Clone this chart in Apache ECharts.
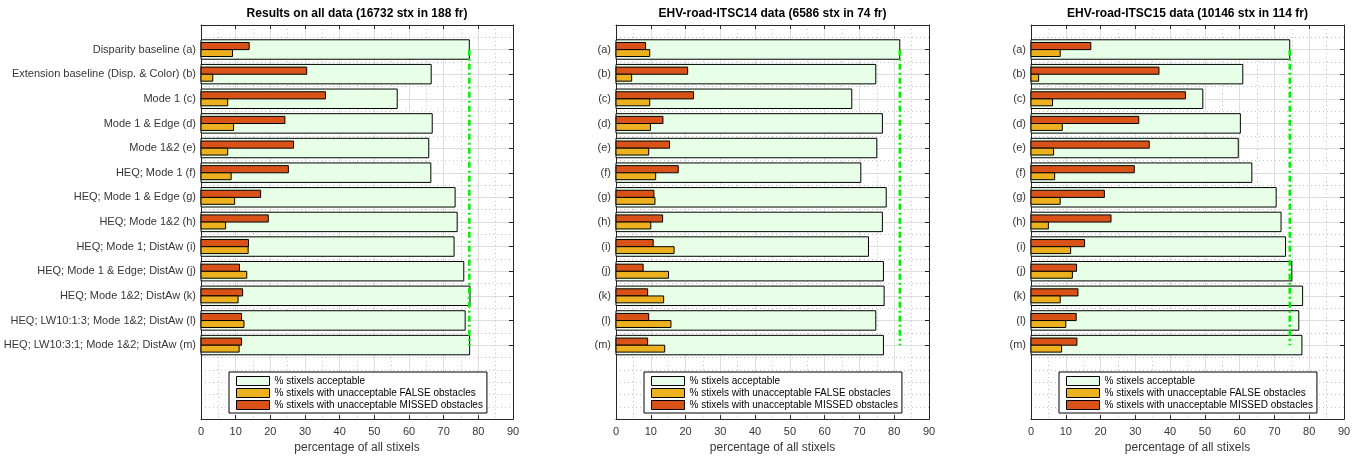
<!DOCTYPE html>
<html>
<head>
<meta charset="utf-8">
<script src="https://cdn.jsdelivr.net/npm/echarts@6/dist/echarts.min.js"></script>
<style>
html,body{margin:0;padding:0;background:#fff;}
#chart{width:1362px;height:459px;}
</style>
</head>
<body>
<div id="chart"></div>
<script>
// ---------------- DATA ----------------
const labelsLong = [
  'Disparity baseline (a)',
  'Extension baseline (Disp. & Color) (b)',
  'Mode 1 (c)',
  'Mode 1 & Edge (d)',
  'Mode 1&2 (e)',
  'HEQ; Mode 1 (f)',
  'HEQ; Mode 1 & Edge (g)',
  'HEQ; Mode 1&2 (h)',
  'HEQ; Mode 1; DistAw (i)',
  'HEQ; Mode 1 & Edge; DistAw (j)',
  'HEQ; Mode 1&2; DistAw (k)',
  'HEQ; LW10:1:3; Mode 1&2; DistAw (l)',
  'HEQ; LW10:3:1; Mode 1&2; DistAw (m)'
];
const labelsShort = ['(a)','(b)','(c)','(d)','(e)','(f)','(g)','(h)','(i)','(j)','(k)','(l)','(m)'];

const titles = [
  'Results on all data (16732 stx in 188 fr)',
  'EHV-road-ITSC14 data (6586 stx in 74 fr)',
  'EHV-road-ITSC15 data (10146 stx in 114 fr)'
];

const seriesNames = [
  '% stixels acceptable',
  '% stixels with unacceptable FALSE obstacles',
  '% stixels with unacceptable MISSED obstacles'
];

// Results on all data
const accAll   = [77.4, 66.4, 56.6, 66.7, 65.7, 66.3, 73.3, 73.9, 73.0, 75.8, 77.6, 76.2, 77.5];
const falseAll = [9.1, 3.4, 7.7, 9.4, 7.7, 8.7, 9.7, 7.1, 13.6, 13.2, 10.7, 12.4, 11.0];
const missAll  = [13.9, 30.5, 35.9, 24.2, 26.7, 25.2, 17.2, 19.4, 13.7, 11.1, 12.0, 11.7, 11.7];

// EHV-road-ITSC14
const acc14   = [81.6, 74.7, 67.8, 76.6, 75.0, 70.4, 77.7, 76.6, 72.6, 76.9, 77.1, 74.7, 76.9];
const false14 = [9.7, 4.5, 9.7, 9.9, 9.4, 11.4, 11.2, 10.0, 16.7, 15.1, 13.7, 15.8, 14.0];
const miss14  = [8.5, 20.6, 22.3, 13.5, 15.4, 17.9, 10.9, 13.4, 10.7, 7.8, 9.1, 9.4, 9.1];

// EHV-road-ITSC15
const acc15   = [74.4, 60.9, 49.4, 60.2, 59.6, 63.5, 70.5, 71.9, 73.2, 75.0, 78.1, 77.0, 77.9];
const false15 = [8.4, 2.2, 6.2, 9.0, 6.5, 6.8, 8.4, 5.0, 11.4, 11.9, 8.4, 10.0, 8.8];
const miss15  = [17.2, 36.8, 44.4, 31.0, 34.0, 29.7, 21.1, 23.0, 15.4, 13.1, 13.5, 13.0, 13.2];

const xTicksMax = 90;
const xTickStep = 10;

// ---------------- LAYOUT / STYLE ----------------
const FONT = '"Liberation Sans", Arial, Helvetica, sans-serif';
const AXIS_COLOR = '#262626';
const LABEL_COLOR = '#363636';
const MAJOR_GRID = '#dedede';
const MINOR_GRID = '#c4c4c4';
const COL_ACC = '#e6ffe6';
const COL_FALSE = '#edb120';
const COL_MISS = '#d95319';

const panels = [
  {labels: labelsLong,  acc: accAll, fal: falseAll, mis: missAll, left: 201, width: 312},
  {labels: labelsShort, acc: acc14,  fal: false14,  mis: miss14,  left: 616, width: 313},
  {labels: labelsShort, acc: acc15,  fal: false15,  mis: miss15,  left: 1031, width: 313}
];
const GRID_TOP = 25;
const GRID_H = 397;
const N = 13;          // number of configurations
const PAD_BOTTOM = 3;  // empty category slots below (legend area)

const grid = [], xAxis = [], yAxis = [], series = [], title = [], legend = [];

panels.forEach((P, p) => {
  const cats = [''].concat(P.labels, new Array(PAD_BOTTOM).fill(''));
  const total = cats.length - 1; // 16
  grid.push({left: P.left, top: GRID_TOP, width: P.width, height: GRID_H, containLabel: false});

  title.push({
    text: titles[p], left: P.left + P.width / 2, top: 8, padding: 0, textAlign: 'center',
    textStyle: {fontFamily: FONT, fontSize: 12, fontWeight: 'bold', color: '#000'}
  });

  // bottom x axis
  xAxis.push({
    type: 'value', gridIndex: p, min: 0, max: xTicksMax, interval: xTickStep, position: 'bottom',
    axisLine: {show: true, onZero: false, lineStyle: {color: AXIS_COLOR, width: 1}},
    axisTick: {show: true, inside: true, length: 4, lineStyle: {color: AXIS_COLOR}},
    axisLabel: {margin: 7, fontFamily: FONT, fontSize: 11, color: LABEL_COLOR},
    splitLine: {show: true, lineStyle: {color: MAJOR_GRID, width: 1}},
    minorTick: {show: false, splitNumber: 2},
    minorSplitLine: {show: true, lineStyle: {color: MINOR_GRID, width: 1, type: [1, 3]}},
    name: 'percentage of all stixels', nameLocation: 'middle', nameGap: 21,
    nameTextStyle: {fontFamily: FONT, fontSize: 12, color: LABEL_COLOR}
  });
  // top x axis (box + inward ticks)
  xAxis.push({
    type: 'value', gridIndex: p, min: 0, max: xTicksMax, interval: xTickStep, position: 'top',
    axisLine: {show: true, onZero: false, lineStyle: {color: AXIS_COLOR, width: 1}},
    axisTick: {show: true, inside: true, length: 4, lineStyle: {color: AXIS_COLOR}},
    axisLabel: {show: false}, splitLine: {show: false}
  });

  const tickFn = (i) => i >= 1 && i <= N;
  // left category axis
  yAxis.push({
    type: 'category', gridIndex: p, data: cats, inverse: true, boundaryGap: false, position: 'left',
    axisLine: {show: true, onZero: false, lineStyle: {color: AXIS_COLOR, width: 1}},
    axisTick: {show: true, inside: true, length: 4, interval: tickFn, lineStyle: {color: AXIS_COLOR}},
    axisLabel: {interval: 0, margin: 5, fontFamily: FONT, fontSize: 11, color: LABEL_COLOR},
    splitLine: {show: true, interval: tickFn, lineStyle: {color: MAJOR_GRID, width: 1}}
  });
  // right category axis (box + inward ticks)
  yAxis.push({
    type: 'category', gridIndex: p, data: cats, inverse: true, boundaryGap: false, position: 'right',
    axisLine: {show: true, onZero: false, lineStyle: {color: AXIS_COLOR, width: 1}},
    axisTick: {show: true, inside: true, length: 4, interval: tickFn, lineStyle: {color: AXIS_COLOR}},
    axisLabel: {show: false}, splitLine: {show: false}
  });
  // hidden value axis for minor (dotted) horizontal grid
  const minorColors = [];
  for (let k = 0; k <= total * 2; k++) {
    const v = k / 2;
    const isMajor = Number.isInteger(v) && v >= 1 && v <= N;
    const isEdge = k === 0 || k === total * 2;
    minorColors.push(isMajor || isEdge ? 'rgba(0,0,0,0)' : MINOR_GRID);
  }
  yAxis.push({
    type: 'value', gridIndex: p, min: 0, max: total, interval: 0.5, inverse: true,
    axisLine: {show: false}, axisTick: {show: false}, axisLabel: {show: false},
    splitLine: {show: true, lineStyle: {color: minorColors, width: 1, type: [1, 3]}}
  });

  const xi = 2 * p, yi = 3 * p;
  const mkBar = (name, values, color, f0, f1, z) => ({
    type: 'custom', name, xAxisIndex: xi, yAxisIndex: yi, z,
    data: values.map((v, i) => [v, i + 1]),
    encode: {x: 0, y: 1},
    itemStyle: {color, borderColor: '#000', borderWidth: 1},
    renderItem: (params, api) => {
      const idx = api.value(1);
      const p0 = api.coord([0, idx]);
      const p1 = api.coord([api.value(0), idx]);
      const unit = Math.abs(api.coord([0, idx + 1])[1] - p0[1]);
      return {
        type: 'rect',
        shape: {x: p0[0], y: p0[1] + f0 * unit, width: p1[0] - p0[0], height: (f1 - f0) * unit},
        style: {fill: color, stroke: '#000', lineWidth: 1}
      };
    }
  });
  series.push(mkBar(seriesNames[0], P.acc, COL_ACC, -0.4, 0.39, 2));
  series.push(mkBar(seriesNames[2], P.mis, COL_MISS, -0.29, 0, 3));
  series.push(mkBar(seriesNames[1], P.fal, COL_FALSE, 0, 0.28, 3));

  // baseline (a) acceptable reference line
  series.push({
    type: 'custom', name: 'baseline', xAxisIndex: xi, yAxisIndex: yi, z: 4, silent: true,
    data: [[P.acc[0], 1, N]],
    encode: {x: 0, y: [1, 2]},
    renderItem: (params, api) => {
      const a = api.coord([api.value(0), api.value(1)]);
      const b = api.coord([api.value(0), api.value(2)]);
      return {
        type: 'line',
        shape: {x1: a[0], y1: a[1], x2: b[0], y2: b[1]},
        style: {stroke: '#00ee00', lineWidth: 2.5, lineDash: [6, 3, 2, 3]}
      };
    }
  });

  legend.push({
    orient: 'vertical', left: P.left + 28, top: 372,
    padding: [3, 4, 2, 7], itemGap: 0, itemWidth: 33, itemHeight: 9,
    backgroundColor: '#fff', borderColor: '#000', borderWidth: 1, borderRadius: 0,
    icon: 'rect', selectedMode: true,
    textStyle: {fontFamily: FONT, fontSize: 10, color: '#000', lineHeight: 12, padding: [0, 0, 0, 0]},
    data: [
      {name: seriesNames[0], itemStyle: {color: COL_ACC, borderColor: '#000', borderWidth: 1}},
      {name: seriesNames[1], itemStyle: {color: COL_FALSE, borderColor: '#000', borderWidth: 1}},
      {name: seriesNames[2], itemStyle: {color: COL_MISS, borderColor: '#000', borderWidth: 1}}
    ]
  });
});

const chart = echarts.init(document.getElementById('chart'), null, {renderer: 'canvas'});
chart.setOption({
  backgroundColor: '#fff',
  animation: false,
  title, legend, grid, xAxis, yAxis, series
});
</script>
</body>
</html>
